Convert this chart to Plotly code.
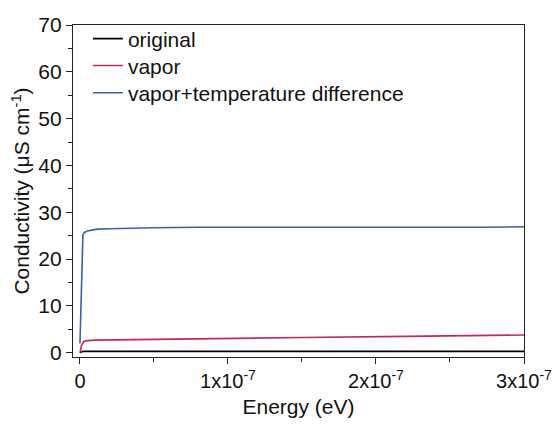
import plotly.graph_objects as go

# Energy in eV
orig_x = [0, 1e-9, 2e-9, 10e-9, 50e-9, 100e-9, 150e-9, 200e-9, 250e-9, 300e-9]
orig_y = [0.0, 0.2, 0.3, 0.3, 0.3, 0.3, 0.3, 0.3, 0.3, 0.3]

vap_x = [0, 1e-9, 2.5e-9, 5e-9, 10e-9, 30e-9, 80e-9, 150e-9, 220e-9, 280e-9, 300e-9]
vap_y = [0.0, 1.5, 2.4, 2.6, 2.7, 2.8, 3.0, 3.25, 3.5, 3.7, 3.8]

vt_x = [0, 1e-9, 2e-9, 3e-9, 5e-9, 8e-9, 12e-9, 20e-9, 30e-9, 50e-9, 80e-9, 120e-9,
        160e-9, 200e-9, 240e-9, 270e-9, 300e-9]
vt_y = [2.0, 14.0, 25.2, 25.7, 26.0, 26.2, 26.4, 26.5, 26.6, 26.7, 26.8, 26.8,
        26.8, 26.8, 26.7, 26.8, 26.9]

names = ["original", "vapor", "vapor+temperature difference"]
colors = ["#000000", "#c3285a", "#3a64a6"]

xtick_vals = [0, 1e-7, 2e-7, 3e-7]
xtick_text = ["0", "1x10<sup>-7</sup>", "2x10<sup>-7</sup>", "3x10<sup>-7</sup>"]
ytick_vals = [0, 10, 20, 30, 40, 50, 60, 70]

legend_ids = ["legend", "legend2", "legend3"]
legend_rows = [0.958, 0.877, 0.795]

fig = go.Figure()
for xs, ys, n, c, lid in zip([orig_x, vap_x, vt_x], [orig_y, vap_y, vt_y], names, colors, legend_ids):
    fig.add_trace(go.Scatter(x=xs, y=ys, mode="lines", name=n, legend=lid,
                             line=dict(color=c, width=1.6)))

font = dict(family="Arial, Liberation Sans, sans-serif", size=21, color="#111")

legend_layout = {}
for lid, ly in zip(legend_ids, legend_rows):
    legend_layout[lid] = dict(x=0.033, y=ly, xanchor="left", yanchor="middle",
                              bgcolor="rgba(0,0,0,0)", font=dict(size=21),
                              borderwidth=0)

fig.update_layout(
    width=557, height=426,
    margin=dict(l=73, r=33, t=25, b=69),
    paper_bgcolor="white", plot_bgcolor="white",
    font=font,
    showlegend=True,
    **legend_layout,
    xaxis=dict(range=[-4.7e-9, 3e-7], tickvals=xtick_vals, ticktext=xtick_text,
               showgrid=False, zeroline=False, showline=True, linecolor="#222",
               linewidth=1.3, mirror=True, ticks="outside", ticklen=6,
               tickcolor="#222", tickwidth=1.3, automargin=False,
               minor=dict(tickvals=[0.5e-7, 1.5e-7, 2.5e-7], ticks="outside",
                          ticklen=4, tickcolor="#222", tickwidth=1.3),
               title=dict(text="Energy (eV)", font=dict(size=21), standoff=8),
               tickfont=dict(size=20)),
    yaxis=dict(range=[-0.9, 70], tickvals=ytick_vals,
               showgrid=False, zeroline=False, showline=True, linecolor="#222",
               linewidth=1.3, mirror=True, ticks="outside", ticklen=6,
               tickcolor="#222", tickwidth=1.3, automargin=False,
               minor=dict(tickvals=[5, 15, 25, 35, 45, 55, 65], ticks="outside",
                          ticklen=4, tickcolor="#222", tickwidth=1.3),
               title=dict(text="Conductivity (μS cm<sup>-1</sup>)", font=dict(size=21), standoff=2),
               tickfont=dict(size=21)),
)

fig.write_html("out.html")
